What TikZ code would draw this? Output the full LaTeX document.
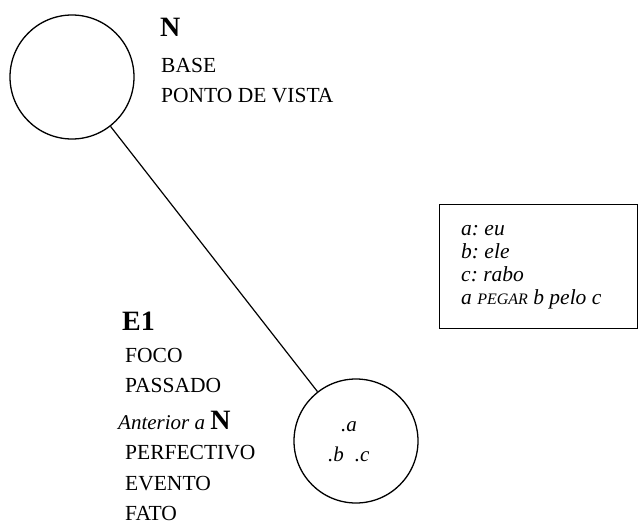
\documentclass[tikz,border=0pt]{standalone}
\usepackage{fontspec}
\setmainfont{Liberation Serif}
\usepackage{tikz}
\usetikzlibrary{positioning}
\frenchspacing
\tikzset{
  space node/.style = {circle, draw, line width=1.3pt, minimum size=124pt, inner sep=0pt},
  head/.style  = {anchor=base west, inner sep=0pt, font=\fontsize{28}{30}\selectfont\bfseries},
  attr/.style  = {anchor=base west, inner sep=0pt, font=\fontsize{21.5}{24}\selectfont},
  ref/.style   = {anchor=base west, inner sep=0pt, font=\fontsize{21}{24}\selectfont\itshape},
  key box/.style  = {draw, line width=1.3pt, minimum width=198pt, minimum height=124pt,
                     anchor=north west, inner sep=0pt},
  key text/.style = {anchor=base west, inner sep=0pt, align=left,
                     font=\fontsize{21.5}{23}\selectfont\itshape},
}
\begin{document}
\begin{tikzpicture}[x=1pt, y=-1pt]
\useasboundingbox (0,0) rectangle (639,527);

% mental spaces
\node[space node] (base) at (72,77) {};
\node[space node] (event) at (356,441) {};
\draw[line width=1.2pt] (base) -- (event);

% labels of the base space
\node[head] (baseN) at (160,37) {N};
\node[attr] (baseA) at (161,72) {BASE};
\node[attr] (baseB) at (161,102) {PONTO DE VISTA};

% labels of the event space
\node[head] (evE) at (122,330) {E1};
\foreach \y/\txt in {362/FOCO, 392/PASSADO, 459/PERFECTIVO, 490/EVENTO, 520/FATO} {
  \node[attr] (ev\y) at (125,\y) {\txt};
}
\node[attr] (ev429) at (118,429) {\fontsize{21}{24}\selectfont\itshape Anterior a
      {\fontsize{28}{30}\selectfont\upshape\bfseries N}};

% elements inside the event space
\node[ref] (elA) at (341,431) {.a};
\node[ref] (elBC) at (328,461) {.b\hspace{11pt}.c};

% key
\node[key box] (key) at (439,204) {};
\node[key text] (keyT) at (461,304) {a: eu\\ b: ele\\ c: rabo\\
      a {\fontsize{16}{16}\selectfont PEGAR} b pelo c};

\end{tikzpicture}
\end{document}
